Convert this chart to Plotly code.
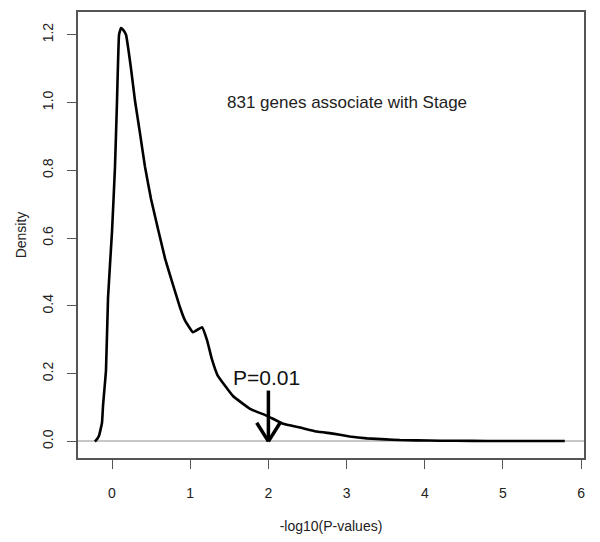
import plotly.graph_objects as go

# Density curve of -log10(P-values)
density_x = [-0.22, -0.205, -0.166, -0.128, -0.115, -0.077, -0.051, 0.0, 0.038, 0.064,
             0.09, 0.115, 0.14, 0.179, 0.243, 0.294, 0.358, 0.422, 0.499, 0.678,
             0.78, 0.87, 0.933, 1.036, 1.151, 1.215, 1.279, 1.35, 1.547, 1.765,
             1.982, 2.187, 2.404, 2.62, 2.826, 3.04, 3.26, 3.5, 3.68, 3.9,
             4.2, 4.6, 5.0, 5.4, 5.79]
density_y = [0.0, 0.003, 0.017, 0.055, 0.105, 0.21, 0.424, 0.619, 0.81, 1.005,
             1.20, 1.22, 1.215, 1.20, 1.10, 1.005, 0.909, 0.81, 0.715, 0.54,
             0.462, 0.395, 0.357, 0.322, 0.337, 0.299, 0.241, 0.195, 0.134, 0.096,
             0.0755, 0.052, 0.041, 0.029, 0.023, 0.0145, 0.009, 0.006, 0.004, 0.003,
             0.002, 0.0015, 0.001, 0.001, 0.001]

x_ticks = [0, 1, 2, 3, 4, 5, 6]
y_ticks = [0.0, 0.2, 0.4, 0.6, 0.8, 1.0, 1.2]
y_tick_labels = ["0.0", "0.2", "0.4", "0.6", "0.8", "1.0", "1.2"]

annotation_text = "831 genes associate with Stage"
annotation_pos = (3.0, 1.0)
p_label = "P=0.01"
p_label_pos = (1.97, 0.19)
arrow_x = 2.0          # -log10(0.01)
arrow_top = 0.15
arrow_tip = 0.0
head_half_width = 0.15
head_length = 0.055

FONT = "Liberation Sans, Arial, sans-serif"
AXIS_COL = "#555555"

fig = go.Figure()
fig.add_trace(go.Scatter(
    x=density_x, y=density_y, mode="lines",
    line=dict(color="black", width=2.6, shape="spline", smoothing=0.3),
    hoverinfo="skip", showlegend=False,
))

# arrow (shaft + open V head, like R's arrows())
arrow_style = dict(color="black", width=3.5)
fig.add_shape(type="line", xref="x", yref="y", x0=arrow_x, x1=arrow_x,
              y0=arrow_top, y1=arrow_tip, line=arrow_style)
fig.add_shape(type="line", xref="x", yref="y", x0=arrow_x - head_half_width, x1=arrow_x,
              y0=arrow_tip + head_length, y1=arrow_tip, line=arrow_style)
fig.add_shape(type="line", xref="x", yref="y", x0=arrow_x + head_half_width, x1=arrow_x,
              y0=arrow_tip + head_length, y1=arrow_tip, line=arrow_style)

fig.add_annotation(x=annotation_pos[0], y=annotation_pos[1], text=annotation_text,
                   showarrow=False, font=dict(family=FONT, size=17, color="#222222"))
fig.add_annotation(x=p_label_pos[0], y=p_label_pos[1], text=p_label,
                   showarrow=False, font=dict(family=FONT, size=21, color="#111111"))

fig.update_layout(
    width=600, height=542,
    margin=dict(l=78, r=16, t=10, b=79),
    paper_bgcolor="white", plot_bgcolor="white",
    font=dict(family=FONT, size=14, color="#222222"),
    xaxis=dict(
        range=[-0.435, 6.036], tickvals=x_ticks, ticktext=[str(v) for v in x_ticks],
        showgrid=False, zeroline=False,
        showline=True, mirror=True, linecolor=AXIS_COL, linewidth=1.5,
        ticks="outside", ticklen=9, tickcolor=AXIS_COL, tickwidth=1.2,
        ticklabelstandoff=12,
        title=dict(text="-log10(P-values)", standoff=22, font=dict(size=14)),
    ),
    yaxis=dict(
        range=[-0.049, 1.267], tickvals=y_ticks, ticktext=y_tick_labels,
        tickangle=-90,
        showgrid=False, zeroline=True, zerolinecolor="#c8c8c8", zerolinewidth=1.5,
        showline=True, mirror=True, linecolor=AXIS_COL, linewidth=1.5,
        ticks="outside", ticklen=9, tickcolor=AXIS_COL, tickwidth=1.2,
        ticklabelstandoff=9,
        title=dict(text="Density", standoff=10, font=dict(size=14)),
    ),
)

fig.write_html("out.html", config={"displayModeBar": False},
               post_script="document.body.style.margin='0px';")
